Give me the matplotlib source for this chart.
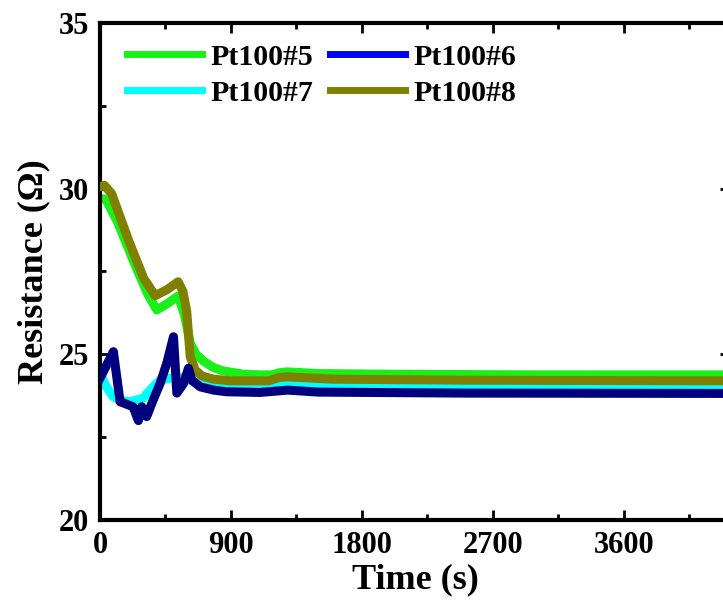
import matplotlib
matplotlib.use('Agg')
import matplotlib.pyplot as plt
from matplotlib.lines import Line2D
from matplotlib.ticker import MultipleLocator

plt.rcParams['font.family'] = ['Liberation Serif', 'DejaVu Serif']
plt.rcParams['font.weight'] = 'bold'

# resistance traces (time in s, resistance in ohm)
t5 = [0, 40, 120, 250, 330, 390, 470, 537, 580, 620, 660, 710, 780, 846, 985, 1100, 1180, 1240, 1290, 1500, 2000, 3000, 4320]
r5 = [29.7, 29.68, 29.0, 27.6, 26.8, 26.34, 26.55, 26.76, 26.2, 25.34, 25.0, 24.8, 24.6, 24.5, 24.4, 24.38, 24.38, 24.45, 24.47, 24.42, 24.4, 24.38, 24.38]

t6 = [0, 92, 138, 227, 264, 287, 321, 356, 413, 459, 505, 528, 574, 608, 631, 688, 780, 872, 1100, 1290, 1500, 2500, 4320]
r6 = [24.28, 25.08, 23.57, 23.42, 23.0, 23.42, 23.12, 23.52, 24.12, 24.73, 25.53, 23.83, 24.12, 24.58, 24.22, 24.02, 23.92, 23.87, 23.85, 23.92, 23.86, 23.83, 23.82]

t7 = [0, 40, 90, 150, 206, 296, 350, 413, 528, 620, 700, 780, 1100, 1290, 1600, 3000, 4320]
r7 = [24.44, 24.05, 23.72, 23.6, 23.57, 23.68, 23.95, 24.22, 24.32, 24.22, 24.12, 24.07, 24.05, 24.1, 24.05, 24.02, 24.01]

t8 = [0, 30, 80, 200, 300, 379, 460, 537, 570, 596, 620, 654, 700, 780, 900, 1160, 1230, 1290, 1600, 2500, 4320]
r8 = [30.06, 30.1, 29.85, 28.4, 27.3, 26.77, 26.95, 27.19, 26.9, 26.3, 24.93, 24.53, 24.35, 24.25, 24.2, 24.2, 24.3, 24.32, 24.25, 24.22, 24.2]

labels = ['Pt100#5', 'Pt100#6', 'Pt100#7', 'Pt100#8']
line_colors = ['#19f019', '#00007f', '#00ffff', '#808000']
legend_colors = ['#19f019', '#0000ff', '#00ffff', '#808000']

fig = plt.figure(figsize=(7.23, 6.02), dpi=100)
ax = fig.add_axes([100 / 723, 82 / 602, 630 / 723, 497 / 602])

lw = 6.5
ax.plot(t5, r5, color=line_colors[0], lw=lw, zorder=2)
ax.plot(t7, r7, color=line_colors[2], lw=lw, zorder=2)
ax.plot(t8, r8, color=line_colors[3], lw=lw, zorder=3)
ax.plot(t6, r6, color=line_colors[1], lw=lw, zorder=4)

ax.set_xlim(0, 4330)
ax.set_ylim(20, 35)
ax.xaxis.set_major_locator(MultipleLocator(900))
ax.xaxis.set_minor_locator(MultipleLocator(450))
ax.yaxis.set_major_locator(MultipleLocator(5))
ax.yaxis.set_minor_locator(MultipleLocator(2.5))
ax.tick_params(which='both', direction='in', top=True, right=True, width=2,
               labelsize=22, pad=8)
ax.tick_params(which='major', length=7)
ax.tick_params(which='minor', length=4)
for sp in ax.spines.values():
    sp.set_linewidth(3)

ax.set_xlabel('Time (s)', fontsize=26, fontweight='bold', labelpad=2)
ax.set_ylabel('Resistance (\u03a9)', fontsize=26, fontweight='bold', labelpad=6)

# legend fills row by row: #5 #6 / #7 #8
order = [0, 2, 1, 3]
handles = [Line2D([], [], color=legend_colors[i], lw=5) for i in order]
ax.legend(handles, [labels[i] for i in order], ncol=2, loc='upper left',
          frameon=False, fontsize=21.5, handlelength=2.5, handletextpad=0.3,
          columnspacing=0.55, labelspacing=0.3,
          bbox_to_anchor=(0.01, 1.0), borderaxespad=0.3)

fig.savefig('out.png', dpi=100)
